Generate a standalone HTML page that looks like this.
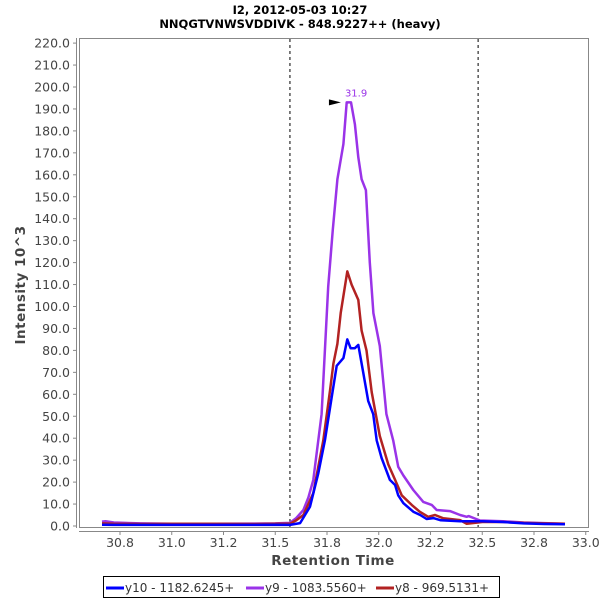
<!DOCTYPE html>
<html><head><meta charset="utf-8"><style>
html,body{margin:0;padding:0;background:#fff;}
svg{display:block;font-family:"DejaVu Sans","Liberation Sans",sans-serif;}
</style></head><body>
<svg id="chart" width="600" height="600" viewBox="0 0 600 600">
<text x="300" y="14" text-anchor="middle" font-size="11.5" font-weight="bold">I2, 2012-05-03 10:27</text>
<text x="300" y="28" text-anchor="middle" font-size="11.5" font-weight="bold">NNQGTVNWSVDDIVK - 848.9227++ (heavy)</text>
<rect x="79.5" y="38.5" width="509" height="489" fill="#fff" stroke="#888"/>
<g id="yaxis"></g>
<g id="xaxis"></g>
<g id="series"></g>
<text transform="translate(25,285) rotate(-90)" text-anchor="middle" font-size="13.5" font-weight="bold" fill="#444" letter-spacing="0.5">Intensity 10^3</text>
<text x="333" y="565" text-anchor="middle" font-size="13.5" font-weight="bold" fill="#444" letter-spacing="0.5">Retention Time</text>
<g>
<rect x="103.5" y="576.5" width="396" height="21" fill="#fff" stroke="#000"/>
<line x1="106" y1="588" x2="124" y2="588" stroke="#0000ff" stroke-width="3"/>
<text x="125" y="592" font-size="12" fill="#333">y10 - 1182.6245+</text>
<line x1="246" y1="588" x2="264" y2="588" stroke="#9a33e8" stroke-width="3"/>
<text x="265" y="592" font-size="12" fill="#333">y9 - 1083.5560+</text>
<line x1="376" y1="588" x2="394" y2="588" stroke="#b22222" stroke-width="3"/>
<text x="395" y="592" font-size="12" fill="#333">y8 - 969.5131+</text>
</g>
</svg>
<script>
const yTicks=[0,10,20,30,40,50,60,70,80,90,100,110,120,130,140,150,160,170,180,190,200,210,220];
const xTicks=[30.75,31.0,31.25,31.5,31.75,32.0,32.25,32.5,32.75,33.0];
const xTickLabels=["30.8","31.0","31.2","31.5","31.8","32.0","32.2","32.5","32.8","33.0"];
const boundaries=[31.571,32.48];
const peakTime=31.856, peakValue=193, peakLabel="31.9";
const tY9=[30.663,30.68,30.72,30.85,31.0,31.2,31.4,31.5,31.571,31.6,31.636,31.66,31.684,31.724,31.756,31.778,31.8,31.829,31.845,31.866,31.885,31.901,31.917,31.938,31.957,31.974,32.005,32.037,32.07,32.094,32.119,32.167,32.215,32.256,32.28,32.344,32.393,32.425,32.434,32.489,32.6,32.7,32.8,32.9];
const vY9=[2,2.2,1.6,1.2,1.0,1.0,1.1,1.2,1.4,3.5,7.3,13,21,51,109,135,158,174,193,193,183,168,158,153,120,97,82,51,39,27,23,16.4,11,9.6,7.3,6.8,5,4.2,4.5,2.5,2.2,1.6,1.3,1.0];
const tY8=[30.663,30.72,30.85,31.0,31.2,31.4,31.5,31.571,31.6,31.636,31.684,31.732,31.765,31.781,31.8,31.816,31.848,31.869,31.901,31.917,31.941,31.966,32.005,32.046,32.079,32.111,32.159,32.198,32.239,32.272,32.312,32.393,32.425,32.5,32.6,32.7,32.8,32.9];
const vY8=[1.2,1.0,0.9,1.0,1.0,0.9,1.0,1.0,2.5,5,15,39,62,74,83,97,116,110,103,89,80,61,41,28,21,14,9.6,6.5,4.2,5,3.5,2.7,1,1.8,1.8,1.4,1.2,1.0];
const tY10=[30.663,30.72,30.85,31.0,31.2,31.4,31.5,31.571,31.62,31.668,31.708,31.74,31.773,31.797,31.829,31.848,31.864,31.885,31.901,31.925,31.949,31.973,31.99,32.014,32.054,32.079,32.094,32.119,32.167,32.2,32.231,32.264,32.3,32.393,32.5,32.6,32.7,32.8,32.9];
const vY10=[0.6,0.5,0.5,0.5,0.5,0.5,0.6,0.5,1.3,8.8,24,39,59,73,76.5,85,81,81,82.5,70,57,51,39,31,21,18.7,14,10.4,6.5,5,3.2,3.6,2.6,2.2,2.2,1.8,1.2,0.9,0.8];
const NS="http://www.w3.org/2000/svg";
function xs(t){return 120+(t-30.75)*207;}
function ys(v){return 526-v*2.195;}
function mk(tag,attrs,parent){const e=document.createElementNS(NS,tag);for(const k in attrs)e.setAttribute(k,attrs[k]);parent.appendChild(e);return e;}
const yg=document.getElementById('yaxis');
mk('line',{x1:76.5,y1:38,x2:76.5,y2:528,stroke:'#888'},yg);
yTicks.forEach(v=>{
  const y=ys(v);
  const t=mk('line',{x1:73,y1:y,x2:76.5,y2:y,stroke:'#888'},yg);
  
  
  const l=mk('text',{x:70,y:y+4.5,'text-anchor':'end','font-size':12.5,fill:'#444'},yg);
  l.textContent=v.toFixed(1);
  
  
});
const xg=document.getElementById('xaxis');
mk('line',{x1:79,y1:531.5,x2:589,y2:531.5,stroke:'#888'},xg);
xTicks.forEach((v,i)=>{
  const x=xs(v);
  const t=mk('line',{x1:x,y1:531.5,x2:x,y2:535,stroke:'#888'},xg);
  
  
  const l=mk('text',{x:x,y:547,'text-anchor':'middle','font-size':12.5,fill:'#444'},xg);
  l.textContent=xTickLabels[i];
  
  
});
const sg=document.getElementById('series');
boundaries.forEach(b=>{
  const l=mk('line',{x1:xs(b),y1:39,x2:xs(b),y2:527,stroke:'#000','stroke-dasharray':'3,3','stroke-width':1},sg);
  
  
});
function drawSeries(ts,vs,color,name){
  const d=ts.map((t,i)=>(i?'L':'M')+xs(t).toFixed(1)+','+ys(vs[i]).toFixed(1)).join(' ');
  const p=mk('path',{d:d,fill:'none',stroke:color,'stroke-width':2.5,'stroke-linejoin':'round'},sg);
  
  
}
drawSeries(tY9,vY9,'#9a33e8','series-y9');
drawSeries(tY8,vY8,'#b22222','series-y8');
drawSeries(tY10,vY10,'#0000ff','series-y10');
const px=xs(peakTime)-8, py=ys(peakValue);
const arr=mk('polygon',{points:(px-12)+','+(py-3)+' '+px+','+py+' '+(px-12)+','+(py+3),fill:'#000'},sg);


const pl=mk('text',{x:px+4,y:py-6,'font-size':10,fill:'#9a33e8'},sg);
pl.textContent=peakLabel;


</script>
</body></html>
